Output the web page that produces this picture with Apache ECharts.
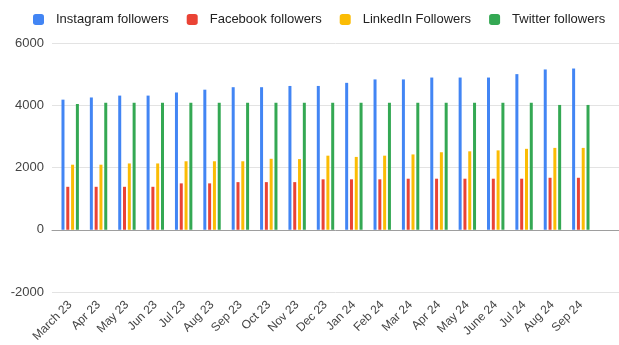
<!DOCTYPE html>
<html lang="en">
<head>
    <meta charset="utf-8">
    <title>Followers</title>
    <script type="text/javascript" src="https://cdn.jsdelivr.net/npm/echarts/dist/echarts.min.js"></script>
    <style>
        html, body { margin: 0; padding: 0; background: #fff; }
    </style>
</head>
<body>
    <div id="chart" style="width: 619px; height: 345px;"></div>

    <script type="text/javascript" charset="utf-8">
        var months = ['March 23', 'Apr 23', 'May 23', 'Jun 23', 'Jul 23', 'Aug 23', 'Sep 23', 'Oct 23', 'Nov 23', 'Dec 23',
                      'Jan 24', 'Feb 24', 'Mar 24', 'Apr 24', 'May 24', 'June 24', 'Jul 24', 'Aug 24', 'Sep 24'];
        var instagram = [4180, 4250, 4310, 4310, 4410, 4500, 4580, 4580, 4620, 4620, 4720, 4830, 4830, 4890, 4890, 4890, 5000, 5150, 5180];
        var facebook  = [1380, 1380, 1380, 1380, 1490, 1490, 1530, 1530, 1530, 1620, 1620, 1620, 1640, 1640, 1640, 1640, 1640, 1670, 1670];
        var linkedin  = [2090, 2090, 2130, 2130, 2200, 2200, 2200, 2280, 2270, 2380, 2340, 2380, 2420, 2490, 2520, 2550, 2600, 2630, 2630];
        var twitter   = [4040, 4080, 4080, 4080, 4080, 4080, 4080, 4080, 4080, 4080, 4080, 4080, 4080, 4080, 4080, 4080, 4080, 4010, 4010];

        var names  = ['Instagram followers', 'Facebook followers', 'LinkedIn Followers', 'Twitter followers'];
        var colors = ['#4285F4', '#EA4335', '#FBBC04', '#34A853'];
        var font = 'Liberation Sans, Arial, sans-serif';

        var chart = echarts.init(document.getElementById('chart'));

        function bar(i, data) {
            return {
                name: names[i],
                type: 'bar',
                xAxisIndex: 0,
                yAxisIndex: 0,
                data: data,
                barWidth: 3,
                barGap: '60%',
                itemStyle: { color: colors[i] }
            };
        }

        chart.setOption({
            animation: false,
            color: colors,
            legend: {
                left: 28,
                top: 8,
                itemWidth: 11,
                itemHeight: 11,
                itemGap: 18,
                icon: 'roundRect',
                textStyle: { fontFamily: font, fontSize: 13, color: '#222', padding: [0, 0, 0, 7] },
                data: names
            },
            grid: [
                { left: 56, right: 24, top: 43, bottom: 53 },   // bars
                { left: 52, right: 0, top: 43, bottom: 53 }     // gridlines + labels
            ],
            xAxis: [{
                type: 'category',
                gridIndex: 0,
                data: months,
                axisLine: { show: false },
                axisTick: { show: false },
                axisLabel: {
                    rotate: 45,
                    interval: 0,
                    margin: 11,
                    fontFamily: font,
                    fontSize: 12,
                    color: '#444'
                }
            }, {
                type: 'value',
                gridIndex: 1,
                min: 0,
                max: 1,
                axisLine: { show: true, onZero: true, lineStyle: { color: '#9e9e9e', width: 1 } },
                axisTick: { show: false },
                axisLabel: { show: false },
                splitLine: { show: false }
            }],
            yAxis: [{
                type: 'value',
                gridIndex: 0,
                min: -2000,
                max: 6000,
                interval: 2000,
                show: false,
                splitLine: { show: false }
            }, {
                type: 'value',
                gridIndex: 1,
                min: -2000,
                max: 6000,
                interval: 2000,
                axisLine: { show: false },
                axisTick: { show: false },
                axisLabel: {
                    margin: 8,
                    fontFamily: font,
                    fontSize: 13,
                    color: '#444',
                    formatter: function (v) { return String(v); }
                },
                splitLine: { lineStyle: { color: '#e3e3e3', width: 1 } }
            }],
            series: [
                bar(0, instagram),
                bar(1, facebook),
                bar(2, linkedin),
                bar(3, twitter)
            ]
        });
    </script>
</body>
</html>
